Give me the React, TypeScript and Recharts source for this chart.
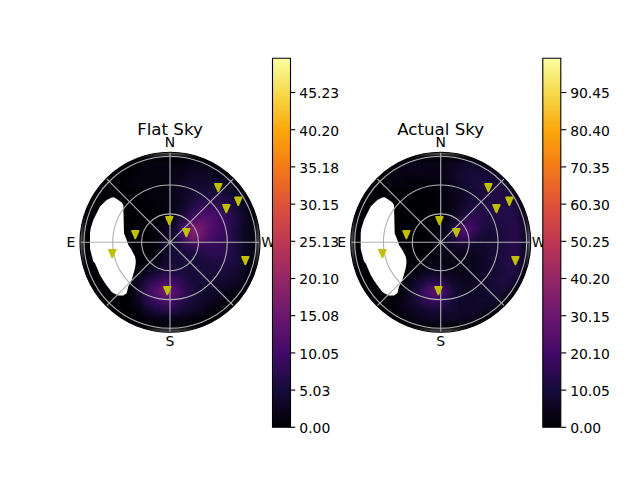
import React from "react";
import {
  Area,
  Bar,
  BarChart,
  ComposedChart,
  ReferenceDot,
  ReferenceLine,
  Scatter,
  ScatterChart,
  XAxis,
  YAxis,
} from "recharts";

const font = "DejaVu Sans";

// sky positions are in pixels from the zenith, north up and east on the left
const gridColumns = [-85.5, -76.5, -67.5, -58.5, -49.5, -40.5, -31.5, -22.5, -13.5, -4.5, 4.5, 13.5, 22.5, 31.5, 40.5, 49.5, 58.5, 67.5, 76.5, 85.5];
const gridRows = [85.5, 76.5, 67.5, 58.5, 49.5, 40.5, 31.5, 22.5, 13.5, 4.5, -4.5, -13.5, -22.5, -31.5, -40.5, -49.5, -58.5, -67.5, -76.5, -85.5];

const flatSkyValues = [
  [0, 0, 0, 0, 0, 0, 0, 0, 0, 0, 0, 0, 0, 0, 0, 0, 0, 0, 0, 0],
  [0, 0, 0, 0, 0, 0, 0, 1, 1, 1, 1, 1, 2, 2, 1, 0, 0, 0, 0, 0],
  [0, 0, 0, 0, 0, 0, 1, 1, 1, 1, 2, 2, 3, 3, 3, 2, 1, 0, 0, 0],
  [0, 0, 0, 0, 0, 1, 1, 1, 1, 1, 2, 3, 4, 4, 4, 4, 3, 1, 0, 0],
  [0, 0, 0, 0, 0, 0, 0, 1, 1, 1, 2, 3, 4, 5, 5, 5, 4, 3, 1, 0],
  [0, 0, 0, 0, 0, 0, 0, 0, 1, 1, 2, 3, 5, 7, 7, 7, 6, 4, 2, 0],
  [0, 0, 0, 0, 0, 0, 0, 0, 0, 1, 2, 4, 7, 9, 10, 9, 7, 5, 3, 0],
  [0, 0, 0, 0, 0, 0, 0, 0, 0, 1, 3, 6, 10, 13, 12, 10, 8, 6, 3, 0],
  [0, 0, 0, 0, 0, 0, 0, 0, 1, 2, 4, 10, 18, 16, 12, 10, 8, 5, 3, 1],
  [0, 0, 0, 0, 0, 0, 0, 0, 1, 3, 4, 10, 17, 15, 11, 9, 8, 5, 3, 1],
  [0, 0, 0, 0, 0, 0, 0, 0, 1, 3, 4, 6, 8, 8, 8, 8, 7, 5, 3, 1],
  [0, 0, 0, 0, 0, 0, 0, 0, 1, 3, 5, 5, 5, 6, 7, 7, 7, 5, 3, 1],
  [0, 0, 0, 0, 0, 0, 0, 1, 2, 4, 5, 5, 5, 5, 5, 6, 6, 5, 3, 0],
  [0, 0, 0, 0, 0, 0, 1, 3, 5, 6, 6, 6, 5, 5, 5, 5, 5, 4, 2, 0],
  [0, 0, 0, 0, 0, 0, 3, 6, 9, 11, 10, 7, 5, 5, 4, 4, 4, 3, 1, 0],
  [0, 0, 0, 0, 0, 0, 3, 9, 13, 16, 13, 9, 6, 4, 4, 3, 2, 1, 0, 0],
  [0, 0, 0, 0, 0, 0, 3, 7, 10, 12, 10, 7, 5, 4, 3, 2, 1, 0, 0, 0],
  [0, 0, 0, 0, 0, 0, 1, 4, 6, 7, 7, 5, 4, 3, 1, 1, 0, 0, 0, 0],
  [0, 0, 0, 0, 0, 0, 0, 1, 2, 2, 2, 2, 1, 1, 0, 0, 0, 0, 0, 0],
  [0, 0, 0, 0, 0, 0, 0, 0, 0, 0, 0, 0, 0, 0, 0, 0, 0, 0, 0, 0],
];

const actualSkyValues = [
  [0, 0, 0, 0, 0, 0, 0, 0, 0, 0, 0, 0, 0, 0, 0, 0, 0, 0, 0, 0],
  [0, 0, 0, 0, 0, 3, 5, 5, 4, 4, 4, 6, 8, 8, 6, 4, 0, 0, 0, 0],
  [0, 0, 0, 0, 3, 3, 3, 3, 3, 3, 4, 6, 9, 10, 10, 9, 5, 0, 0, 0],
  [0, 0, 0, 0, 2, 2, 1, 1, 1, 2, 3, 5, 8, 10, 11, 11, 11, 6, 0, 0],
  [0, 0, 0, 0, 0, 0, 0, 0, 1, 1, 2, 4, 6, 9, 10, 12, 13, 11, 4, 0],
  [0, 0, 0, 0, 0, 0, 0, 0, 0, 1, 2, 4, 7, 10, 11, 12, 13, 13, 8, 0],
  [0, 0, 0, 0, 0, 0, 0, 0, 0, 1, 2, 4, 8, 12, 13, 13, 13, 13, 12, 3],
  [0, 0, 0, 0, 0, 0, 0, 0, 0, 1, 3, 6, 13, 17, 14, 12, 12, 13, 13, 4],
  [0, 0, 0, 0, 0, 0, 0, 0, 0, 1, 4, 13, 24, 20, 13, 10, 11, 13, 14, 5],
  [0, 0, 0, 0, 0, 0, 0, 0, 0, 2, 4, 12, 20, 15, 9, 8, 10, 13, 14, 5],
  [0, 0, 0, 0, 0, 0, 0, 0, 0, 2, 4, 6, 7, 7, 7, 8, 10, 13, 14, 5],
  [0, 0, 0, 0, 0, 0, 0, 0, 1, 2, 4, 4, 4, 5, 6, 8, 10, 13, 14, 4],
  [0, 0, 0, 0, 0, 0, 0, 1, 2, 3, 3, 3, 3, 4, 6, 8, 10, 13, 13, 3],
  [0, 0, 0, 0, 0, 0, 1, 3, 6, 6, 5, 4, 4, 5, 6, 8, 10, 12, 11, 0],
  [0, 0, 0, 0, 0, 0, 3, 8, 13, 15, 12, 7, 5, 5, 7, 9, 11, 12, 6, 0],
  [0, 0, 0, 0, 0, 1, 5, 12, 22, 27, 19, 10, 7, 6, 7, 8, 10, 7, 0, 0],
  [0, 0, 0, 0, 0, 3, 6, 11, 17, 20, 15, 9, 7, 7, 8, 8, 7, 0, 0, 0],
  [0, 0, 0, 0, 0, 3, 5, 7, 9, 10, 9, 8, 7, 7, 7, 5, 0, 0, 0, 0],
  [0, 0, 0, 0, 0, 0, 3, 5, 6, 7, 7, 7, 6, 6, 3, 0, 0, 0, 0, 0],
  [0, 0, 0, 0, 0, 0, 0, 0, 0, 0, 0, 0, 0, 0, 0, 0, 0, 0, 0, 0],
];

// the part of the sky with no coverage, top and bottom edge for each x
const holeX = [-80, -79.3, -76.7, -75, -70, -66.7, -63.3, -58.3, -56, -51.7, -48.3, -46.7, -46, -43.3, -41.7, -38.3, -35, -34.3];
const holeTop = [9, 14, 22.3, 25.7, 35.7, 39, 42.3, 44.7, 45, 42.3, 39.7, 37.3, 9, 2.3, -2.7, -7.7, -14.3, -17.7];
const holeBottom = [-6, -9.3, -19.3, -21, -32.7, -38.3, -43.3, -49.7, -51.3, -53.3, -53.3, -53.3, -52.7, -51, -44.3, -37.7, -26, -21];

const flatStarX = [48.3, 68.3, 56.3, -0.7, 16.3, -34.7, -57.7, 75.3, -2.7];
const flatStarY = [54.7, 41, 33.7, 21.7, 9.7, 7.7, -11.3, -18.3, -48.3];
const actualStarX = [47.7, 68.7, 55.7, -1.3, 15.7, -34.3, -58.3, 74.7, -2.3];
const actualStarY = [54.7, 41, 33.7, 21.7, 9.7, 7.7, -11.3, -18.3, -48.3];

const ringRadii = [28.4, 57.3, 86];
const spokeX = [0, 63.6, 90, 63.6];
const spokeY = [90, 63.6, 0, -63.6];

const compassLabels = ["N", "W", "S", "E"];
const compassX = [0, 98, 0, -99];
const compassY = [100, 0, -98.5, 0];

const flatTicks = [0, 5.03, 10.05, 15.08, 20.1, 25.13, 30.15, 35.18, 40.2, 45.23];
const actualTicks = [0, 10.05, 20.1, 30.15, 40.2, 50.25, 60.3, 70.35, 80.4, 90.45];

const infernoStops = ["#000004", "#160b39", "#420a68", "#6a176e", "#932667", "#bc3754", "#dd513a", "#f37819", "#fca50a", "#f6d746", "#fcffa4"];

function inferno(t: number) {
  const p = Math.max(0, Math.min(1, t)) * (infernoStops.length - 1);
  const i = Math.min(Math.floor(p), infernoStops.length - 2);
  const f = p - i;
  const a = infernoStops[i];
  const b = infernoStops[i + 1];
  const mix = (k: number) => {
    const u = parseInt(a.slice(k, k + 2), 16);
    const v = parseInt(b.slice(k, k + 2), 16);
    return Math.round(u + (v - u) * f);
  };
  return `rgb(${mix(1)},${mix(3)},${mix(5)})`;
}

function HeatCell(props: any) {
  const { cx, cy, payload } = props;
  return <rect x={cx - 5} y={cy - 5} width={10} height={10} fill={inferno(payload.value / payload.vmax)} />;
}

function StarMarker(props: any) {
  const { cx, cy } = props;
  return (
    <path
      d={`M${cx - 3.3},${cy - 3.8}L${cx + 3.3},${cy - 3.8}L${cx},${cy + 3.8}Z`}
      fill="#bfbf00"
      stroke="#bfbf00"
      strokeWidth={1.8}
      strokeLinejoin="round"
    />
  );
}

function CompassText(props: any) {
  const { cx, cy, payload } = props;
  return (
    <text x={cx} y={cy} textAnchor="middle" dominantBaseline="central" fontFamily={font} fontSize={payload.size} fill="#000">
      {payload.label}
    </text>
  );
}

function ScaleTick(props: any) {
  const { x, y, payload } = props;
  return (
    <text x={x} y={y + 0.8} textAnchor="start" dominantBaseline="central" fontFamily={font} fontSize={13.9} fill="#000">
      {payload.value.toFixed(2)}
    </text>
  );
}

function SkyPanel({ title, values, vmax, starX, starY, centerX, centerY }: any) {
  const heat = values.flatMap((row: number[], r: number) =>
    row.map((value, c) => ({ x: gridColumns[c], y: gridRows[r], value, vmax }))
  );
  const hole = holeX.map((x, i) => ({ x, range: [holeBottom[i], holeTop[i]] }));
  const stars = starX.map((x: number, i: number) => ({ x, y: starY[i] }));
  const labels = compassLabels.map((label, i) => ({ x: compassX[i], y: compassY[i], label, size: 13.9 }));
  const titles = [{ x: 0, y: 113, label: title, size: 16.67 }];
  const margin = { left: centerX - 120, right: 640 - centerX - 120, top: centerY - 120, bottom: 480 - centerY - 120 };
  const axes = [
    <XAxis key="x" type="number" dataKey="x" domain={[-120, 120]} hide allowDataOverflow />,
    <YAxis key="y" type="number" dataKey="y" domain={[-120, 120]} hide allowDataOverflow />,
  ];

  return (
    <>
      <div
        style={{
          position: "absolute",
          left: 0,
          top: 0,
          filter: "blur(3px)",
          clipPath: `circle(90px at ${centerX}px ${centerY}px)`,
        }}
      >
        <ScatterChart width={640} height={480} margin={margin}>
          {axes}
          <Scatter data={heat} shape={HeatCell} isAnimationActive={false} />
        </ScatterChart>
      </div>
      <div style={{ position: "absolute", left: 0, top: 0 }}>
        <ComposedChart width={640} height={480} margin={margin}>
          {axes}
          <Area data={hole} dataKey="range" type="linear" fill="#ffffff" fillOpacity={1} stroke="none" dot={false} activeDot={false} isAnimationActive={false} />
          {ringRadii.map((r) => (
            <ReferenceDot key={r} x={0} y={0} r={r} fill="none" stroke="#b0b0b0" strokeWidth={1.1} />
          ))}
          {spokeX.map((x, i) => (
            <ReferenceLine
              key={i}
              segment={[
                { x, y: spokeY[i] },
                { x: -x, y: -spokeY[i] },
              ]}
              stroke="#b0b0b0"
              strokeWidth={1.1}
            />
          ))}
          <ReferenceDot x={0} y={0} r={90} fill="none" stroke="#000000" strokeWidth={1.1} />
          <Scatter data={stars} shape={StarMarker} isAnimationActive={false} />
          <Scatter data={labels} shape={CompassText} isAnimationActive={false} />
          <Scatter data={titles} shape={CompassText} isAnimationActive={false} />
        </ComposedChart>
      </div>
    </>
  );
}

function ColorBar({ id, left, right, vmax, ticks }: any) {
  const axisWidth = 60;
  return (
    <div style={{ position: "absolute", left: 0, top: 0 }}>
      <BarChart
        width={640}
        height={480}
        data={[{ name: "scale", value: vmax }]}
        margin={{ left, right: 640 - right - axisWidth, top: 58.3, bottom: 480 - 427.3 }}
        barCategoryGap={0}
      >
        <defs>
          <linearGradient id={id} x1="0" y1="1" x2="0" y2="0">
            {infernoStops.map((color, i) => (
              <stop key={color} offset={i / (infernoStops.length - 1)} stopColor={color} />
            ))}
          </linearGradient>
        </defs>
        <XAxis dataKey="name" hide />
        <YAxis
          orientation="right"
          type="number"
          width={axisWidth}
          domain={[0, vmax]}
          ticks={ticks}
          interval={0}
          tick={ScaleTick}
          tickSize={5}
          tickMargin={4}
          tickLine={{ stroke: "#000", strokeWidth: 1.1 }}
          axisLine={false}
        />
        <Bar dataKey="value" fill={`url(#${id})`} stroke="#000" strokeWidth={1.1} isAnimationActive={false} />
      </BarChart>
    </div>
  );
}

export default function App() {
  return (
    <div style={{ position: "absolute", left: 0, top: 0, width: 640, height: 480, background: "#fff", overflow: "hidden" }}>
      <SkyPanel title="Flat Sky" values={flatSkyValues} vmax={49.85} starX={flatStarX} starY={flatStarY} centerX={170} centerY={242.3} />
      <ColorBar id="flatScale" left={272.5} right={290.3} vmax={49.85} ticks={flatTicks} />
      <SkyPanel title="Actual Sky" values={actualSkyValues} vmax={99.7} starX={actualStarX} starY={actualStarY} centerX={440.7} centerY={242.3} />
      <ColorBar id="actualScale" left={542.8} right={561.2} vmax={99.7} ticks={actualTicks} />
    </div>
  );
}
